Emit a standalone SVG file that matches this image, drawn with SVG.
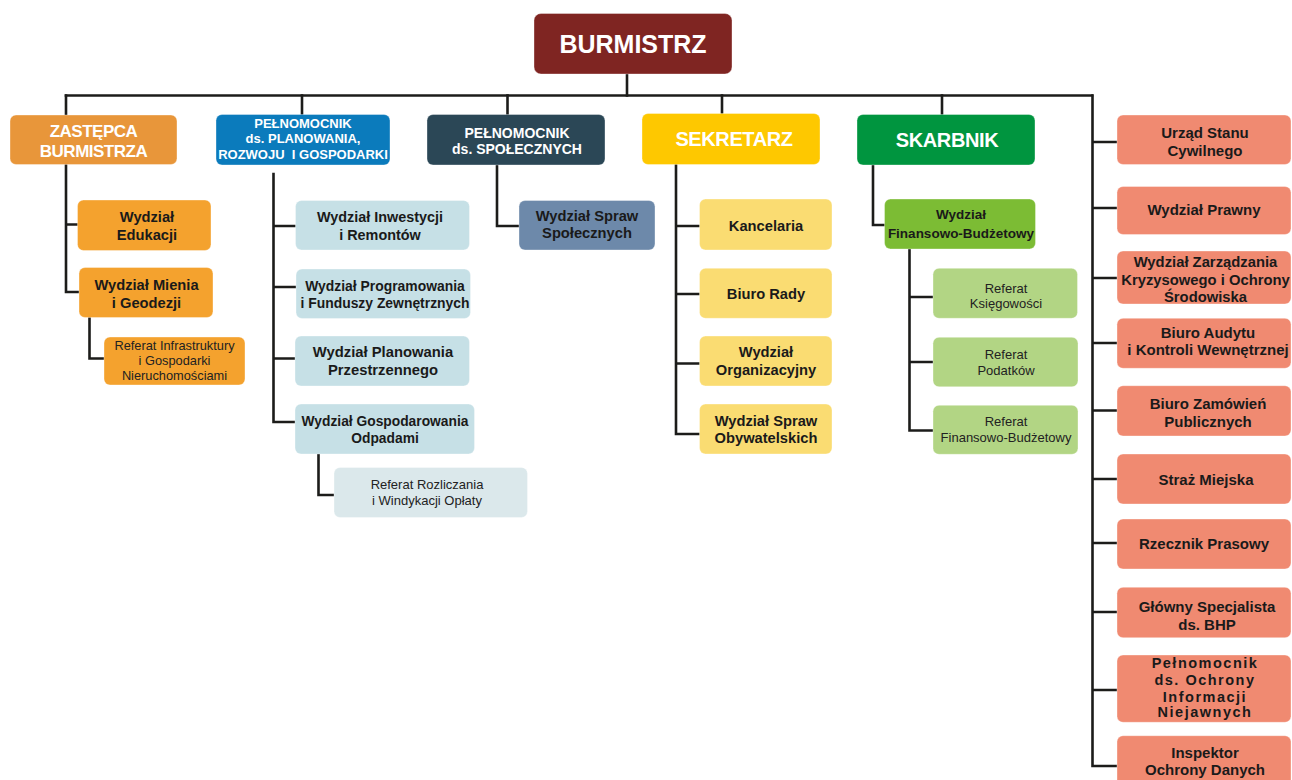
<svg xmlns="http://www.w3.org/2000/svg" width="1292" height="780" viewBox="0 0 1292 780">
<style>
.ln{stroke:#1c1c1a;stroke-width:2.6;fill:none;stroke-linecap:square}
rect{stroke:#ffffff;stroke-opacity:0.35;stroke-width:1}
text{font-family:"Liberation Sans",Arial,sans-serif;text-anchor:middle}
.hd{font-weight:bold;fill:#ffffff}
.b{font-weight:bold;fill:#1a1a1a}
.r{font-weight:normal;fill:#222222}
.c-bur{fill:#7f2522}
.c-zas{fill:#e8963a}
.c-pln{fill:#0b7bbc}
.c-spo{fill:#2b4756}
.c-sek{fill:#fec800}
.c-ska{fill:#00953f}
.c-or{fill:#f4a22e}
.c-lb{fill:#c6e0e6}
.c-llb{fill:#dbe8eb}
.c-bg{fill:#6d89aa}
.c-yl{fill:#fadc72}
.c-gm{fill:#7cbc34}
.c-lg{fill:#b2d584}
.c-sal{fill:#f08a71}
</style>
<rect width="1292" height="780" fill="#ffffff" stroke="none"/>
<g id="connectors">
<path class="ln" d="M66 95.5 H1092"/>
<path class="ln" d="M627 74 V95.5"/>
<path class="ln" d="M66 95.5 V292 H79 M66 224.5 H78"/>
<path class="ln" d="M89.5 317 V358.5 H104"/>
<path class="ln" d="M302 95.5 V115"/>
<path class="ln" d="M273.5 174 V422 H295 M273.5 226 H296 M273.5 287 H296 M273.5 358.5 H295"/>
<path class="ln" d="M318.5 454 V495 H334"/>
<path class="ln" d="M507.5 95.5 V115"/>
<path class="ln" d="M497 165 V226 H519"/>
<path class="ln" d="M722 95.5 V114"/>
<path class="ln" d="M676 165 V434 H700 M676 226 H700 M676 294 H700 M676 363.5 H700"/>
<path class="ln" d="M942 95.5 V115"/>
<path class="ln" d="M873 165 V225 H885"/>
<path class="ln" d="M909.5 249 V430.5 H933 M909.5 297 H933 M909.5 362 H933"/>
<path class="ln" d="M1092.5 95.5 V766 H1117 M1092.5 142 H1117 M1092.5 208 H1117 M1092.5 278 H1117 M1092.5 343 H1117 M1092.5 410.5 H1117 M1092.5 479 H1117 M1092.5 543 H1117 M1092.5 612 H1117 M1092.5 690 H1117"/>
</g>
<g id="burmistrz"><rect class="c-bur" x="534" y="13.5" width="198" height="60.5" rx="7"/><text class="hd" x="633" y="53" font-size="25">BURMISTRZ</text></g>
<g id="zastepca"><rect class="c-zas" x="10" y="115" width="167" height="49.5" rx="6"/><text class="hd" x="93.5" y="137" font-size="17" letter-spacing="-0.5">ZASTĘPCA</text><text class="hd" x="93.5" y="157" font-size="17" letter-spacing="-0.5">BURMISTRZA</text></g>
<g id="pelnomocnik-planowania"><rect class="c-pln" x="216" y="114.5" width="174" height="50.5" rx="6"/><text class="hd" x="303" y="128" font-size="13">PEŁNOMOCNIK</text><text class="hd" x="303" y="142.5" font-size="13">ds. PLANOWANIA,</text><text class="hd" x="303" y="159" font-size="13" xml:space="preserve">ROZWOJU  I GOSPODARKI</text></g>
<g id="pelnomocnik-spoleczne"><rect class="c-spo" x="427" y="114.5" width="178" height="50.5" rx="6"/><text class="hd" x="517" y="137.5" font-size="14">PEŁNOMOCNIK</text><text class="hd" x="517" y="153.5" font-size="14">ds. SPOŁECZNYCH</text></g>
<g id="sekretarz"><rect class="c-sek" x="642" y="113.5" width="178" height="51" rx="6"/><text class="hd" x="734" y="146" font-size="20" letter-spacing="-0.4">SEKRETARZ</text></g>
<g id="skarbnik"><rect class="c-ska" x="857" y="114.5" width="178" height="50.5" rx="6"/><text class="hd" x="947" y="147" font-size="20" letter-spacing="-0.4">SKARBNIK</text></g>

<g id="wydzial-edukacji"><rect class="c-or" x="77.5" y="200" width="133.5" height="50.5" rx="6"/><text class="b" x="147" y="221.7" font-size="14.7">Wydział</text><text class="b" x="147" y="240" font-size="14.7">Edukacji</text></g>
<g id="wydzial-mienia"><rect class="c-or" x="79" y="267.5" width="134" height="50" rx="6"/><text class="b" x="146.5" y="290" font-size="14.7">Wydział Mienia</text><text class="b" x="146.5" y="307.5" font-size="14.7">i Geodezji</text></g>
<g id="referat-infrastruktury"><rect class="c-or" x="104" y="337" width="141" height="48" rx="6"/><text class="r" x="174.5" y="350" font-size="12.8">Referat Infrastruktury</text><text class="r" x="174.5" y="365" font-size="12.8">i Gospodarki</text><text class="r" x="174.5" y="380" font-size="12.8">Nieruchomościami</text></g>

<g id="wydzial-inwestycji"><rect class="c-lb" x="295.5" y="200.5" width="174" height="49.5" rx="6"/><text class="b" x="380" y="221.7" font-size="14.4">Wydział Inwestycji</text><text class="b" x="380" y="240" font-size="14.4">i Remontów</text></g>
<g id="wydzial-programowania"><rect class="c-lb" x="296" y="269" width="174.5" height="49.5" rx="6"/><text class="b" x="385" y="290.7" font-size="13.9">Wydział Programowania</text><text class="b" x="385" y="308.3" font-size="13.9">i Funduszy Zewnętrznych</text></g>
<g id="wydzial-planowania"><rect class="c-lb" x="295" y="336" width="174.5" height="50" rx="6"/><text class="b" x="383" y="356.7" font-size="14.8">Wydział Planowania</text><text class="b" x="383" y="375" font-size="14.8">Przestrzennego</text></g>
<g id="wydzial-gospodarowania"><rect class="c-lb" x="295" y="404" width="179.5" height="50" rx="6"/><text class="b" x="385" y="425.7" font-size="13.8">Wydział Gospodarowania</text><text class="b" x="385" y="443.3" font-size="13.8">Odpadami</text></g>
<g id="referat-rozliczania"><rect class="c-llb" x="334" y="467.5" width="193.5" height="50" rx="6"/><text class="r" x="427" y="489.3" font-size="13">Referat Rozliczania</text><text class="r" x="427" y="505" font-size="13">i Windykacji Opłaty</text></g>

<g id="wydzial-spraw-spolecznych"><rect class="c-bg" x="519" y="200.5" width="136" height="49.5" rx="6"/><text class="b" x="587" y="221" font-size="14.7">Wydział Spraw</text><text class="b" x="587" y="238.3" font-size="14.7">Społecznych</text></g>

<g id="kancelaria"><rect class="c-yl" x="699.5" y="199" width="132.5" height="51" rx="6"/><text class="b" x="766" y="231" font-size="14.7">Kancelaria</text></g>
<g id="biuro-rady"><rect class="c-yl" x="699.5" y="268.3" width="132.5" height="50" rx="6"/><text class="b" x="766" y="299.3" font-size="14.7">Biuro Rady</text></g>
<g id="wydzial-organizacyjny"><rect class="c-yl" x="699.5" y="336" width="132.5" height="50" rx="6"/><text class="b" x="766" y="357.3" font-size="14.7">Wydział</text><text class="b" x="766" y="375" font-size="14.7">Organizacyjny</text></g>
<g id="wydzial-spraw-obywatelskich"><rect class="c-yl" x="699.5" y="404" width="132.5" height="50" rx="6"/><text class="b" x="766" y="426" font-size="14.7">Wydział Spraw</text><text class="b" x="766" y="443.3" font-size="14.7">Obywatelskich</text></g>

<g id="wydzial-finansowo-budzetowy"><rect class="c-gm" x="884.5" y="199" width="151" height="50" rx="6"/><text class="b" x="961" y="219.3" font-size="13.5">Wydział</text><text class="b" x="961" y="237.7" font-size="13.5">Finansowo-Budżetowy</text></g>
<g id="referat-ksiegowosci"><rect class="c-lg" x="933" y="268.3" width="144.5" height="50" rx="6"/><text class="r" x="1006" y="292.7" font-size="13">Referat</text><text class="r" x="1006" y="308.3" font-size="13">Księgowości</text></g>
<g id="referat-podatkow"><rect class="c-lg" x="933" y="337.3" width="145" height="49.5" rx="6"/><text class="r" x="1006" y="359.3" font-size="13">Referat</text><text class="r" x="1006" y="375" font-size="13">Podatków</text></g>
<g id="referat-finansowo-budzetowy"><rect class="c-lg" x="933" y="405.3" width="145" height="49" rx="6"/><text class="r" x="1006" y="426" font-size="13">Referat</text><text class="r" x="1006" y="441.7" font-size="13">Finansowo-Budżetowy</text></g>

<g id="urzad-stanu-cywilnego"><rect class="c-sal" x="1117" y="115" width="174" height="49.5" rx="6"/><text class="b" x="1205" y="137.7" font-size="15">Urząd Stanu</text><text class="b" x="1205" y="155.7" font-size="15">Cywilnego</text></g>
<g id="wydzial-prawny"><rect class="c-sal" x="1117" y="186.5" width="174" height="48" rx="6"/><text class="b" x="1204" y="215" font-size="15">Wydział Prawny</text></g>
<g id="wydzial-zarzadzania-kryzysowego"><rect class="c-sal" x="1117" y="251" width="174" height="53" rx="6"/><text class="b" x="1205.5" y="266.7" font-size="14.8">Wydział Zarządzania</text><text class="b" x="1205.5" y="284.5" font-size="14.8">Kryzysowego i Ochrony</text><text class="b" x="1205.5" y="301.5" font-size="14.8">Środowiska</text></g>
<g id="biuro-audytu"><rect class="c-sal" x="1117" y="318.3" width="174" height="50" rx="6"/><text class="b" x="1208" y="337.7" font-size="15">Biuro Audytu</text><text class="b" x="1208" y="355" font-size="15">i Kontroli Wewnętrznej</text></g>
<g id="biuro-zamowien"><rect class="c-sal" x="1117" y="385.7" width="174" height="50.3" rx="6"/><text class="b" x="1208" y="409" font-size="15">Biuro Zamówień</text><text class="b" x="1208" y="426.7" font-size="15">Publicznych</text></g>
<g id="straz-miejska"><rect class="c-sal" x="1117" y="454" width="174" height="50" rx="6"/><text class="b" x="1206" y="485" font-size="15">Straż Miejska</text></g>
<g id="rzecznik-prasowy"><rect class="c-sal" x="1117" y="519" width="174" height="50" rx="6"/><text class="b" x="1204" y="549" font-size="15">Rzecznik Prasowy</text></g>
<g id="glowny-specjalista-bhp"><rect class="c-sal" x="1117" y="587.3" width="174" height="50.4" rx="6"/><text class="b" x="1207" y="612.3" font-size="15">Główny Specjalista</text><text class="b" x="1207" y="630" font-size="15">ds. BHP</text></g>
<g id="pelnomocnik-informacji-niejawnych"><rect class="c-sal" x="1117" y="655" width="174" height="67.3" rx="6"/><text class="b" x="1205" y="668.3" font-size="14.5" letter-spacing="1.5">Pełnomocnik</text><text class="b" x="1205" y="685" font-size="14.5" letter-spacing="1.5">ds. Ochrony</text><text class="b" x="1205" y="701.7" font-size="14.5" letter-spacing="1.5">Informacji</text><text class="b" x="1205" y="716.7" font-size="14.5" letter-spacing="1.5">Niejawnych</text></g>
<g id="inspektor-ochrony-danych"><rect class="c-sal" x="1117" y="735.7" width="174" height="60" rx="6"/><text class="b" x="1205" y="758.3" font-size="15">Inspektor</text><text class="b" x="1205" y="775" font-size="15">Ochrony Danych</text></g>
</svg>
